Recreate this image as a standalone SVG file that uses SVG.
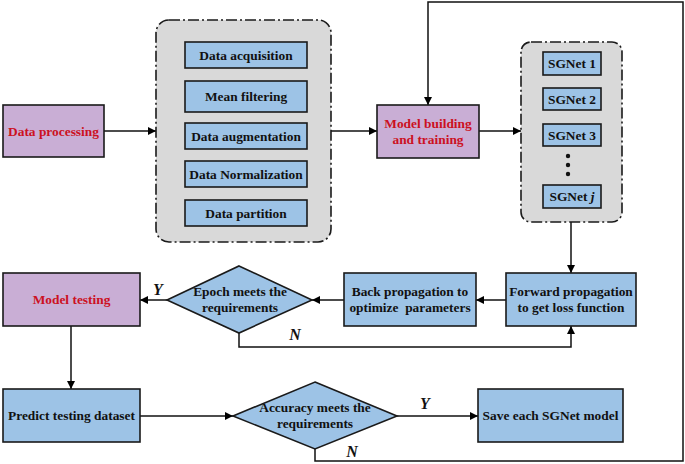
<svg xmlns="http://www.w3.org/2000/svg" width="685" height="464" viewBox="0 0 685 464">
<defs>
<marker id="ah" viewBox="0 0 10 10" refX="10" refY="5" markerWidth="8" markerHeight="8" markerUnits="userSpaceOnUse" orient="auto">
<path d="M0,0 L10,5 L0,10 Z" fill="#000"/>
</marker>
<style>
.blue{fill:#9dc3e6;stroke:#1a1a1a;stroke-width:1.6}
.purp{fill:#c9aed5;stroke:#1a1a1a;stroke-width:1.6}
.cont{fill:#d9d9d9;stroke:#1a1a1a;stroke-width:1.6;stroke-dasharray:11 3 2 3}
.t{font-family:"Liberation Serif","Times New Roman",serif;font-weight:bold;font-size:13.4px;fill:#111;text-anchor:middle}
.r{fill:#cc1122}
.yn{font-family:"Liberation Serif","Times New Roman",serif;font-weight:bold;font-style:italic;font-size:16px;fill:#111;text-anchor:middle}
.c{fill:none;stroke:#111;stroke-width:1.5}
</style>
</defs>
<rect width="685" height="464" fill="#fff"/>

<g id="connectors">
<line class="c" x1="104" y1="131" x2="156" y2="131" marker-end="url(#ah)"/>
<line class="c" x1="331" y1="131" x2="377" y2="131" marker-end="url(#ah)"/>
<line class="c" x1="479" y1="131" x2="521" y2="131" marker-end="url(#ah)"/>
<line class="c" x1="571" y1="222" x2="571" y2="273" marker-end="url(#ah)"/>
<line class="c" x1="506" y1="300" x2="476" y2="300" marker-end="url(#ah)"/>
<line class="c" x1="344" y1="300" x2="312" y2="300" marker-end="url(#ah)"/>
<line class="c" x1="167" y1="300" x2="140" y2="300" marker-end="url(#ah)"/>
<polyline class="c" points="239,333 239,347 571,347 571,326" marker-end="url(#ah)"/>
<line class="c" x1="71" y1="326" x2="71" y2="389" marker-end="url(#ah)"/>
<line class="c" x1="140" y1="416" x2="233" y2="416" marker-end="url(#ah)"/>
<line class="c" x1="397" y1="416" x2="478" y2="416" marker-end="url(#ah)"/>
<polyline class="c" points="315,449 315,461 683,461 683,2 428,2 428,105" marker-end="url(#ah)"/>
<text class="yn" x="158" y="295">Y</text>
<text class="yn" x="295" y="340">N</text>
<text class="yn" x="425" y="409">Y</text>
<text class="yn" x="352" y="457">N</text>
</g>

<g id="data-processing">
<rect class="purp" x="3" y="105" width="101" height="52"/>
<text class="t r" x="53.5" y="135.5">Data processing</text>
</g>

<g id="preprocessing-group">
<rect class="cont" x="156" y="20" width="175" height="222" rx="13"/>
</g>
<g id="data-acquisition">
<rect class="blue" x="185" y="42" width="122" height="26"/>
<text class="t" x="246" y="59.5">Data acquisition</text>
</g>
<g id="mean-filtering">
<rect class="blue" x="185" y="81" width="122" height="31"/>
<text class="t" x="246" y="101">Mean filtering</text>
</g>
<g id="data-augmentation">
<rect class="blue" x="185" y="123" width="122" height="26"/>
<text class="t" x="246" y="140.5">Data augmentation</text>
</g>
<g id="data-normalization">
<rect class="blue" x="185" y="161" width="122" height="26"/>
<text class="t" x="246" y="178.5">Data Normalization</text>
</g>
<g id="data-partition">
<rect class="blue" x="185" y="200" width="122" height="26"/>
<text class="t" x="246" y="217.5">Data partition</text>
</g>

<g id="model-building">
<rect class="purp" x="377" y="105" width="102" height="53"/>
<text class="t r" x="428" y="128">Model building</text>
<text class="t r" x="428" y="144">and training</text>
</g>

<g id="sgnet-group">
<rect class="cont" x="521" y="42" width="101" height="180" rx="10"/>
<circle cx="568" cy="156" r="2.2" fill="#111"/>
<circle cx="568" cy="165" r="2.2" fill="#111"/>
<circle cx="568" cy="174" r="2.2" fill="#111"/>
</g>
<g id="sgnet-1">
<rect class="blue" x="543" y="52" width="58" height="23"/>
<text class="t" x="572" y="68">SGNet 1</text>
</g>
<g id="sgnet-2">
<rect class="blue" x="543" y="88" width="58" height="22"/>
<text class="t" x="572" y="103.5">SGNet 2</text>
</g>
<g id="sgnet-3">
<rect class="blue" x="543" y="124" width="58" height="22"/>
<text class="t" x="572" y="139.5">SGNet 3</text>
</g>
<g id="sgnet-j">
<rect class="blue" x="543" y="185" width="58" height="23"/>
<text class="t" x="572" y="201">SGNet <tspan font-style="italic">j</tspan></text>
</g>

<g id="forward-propagation">
<rect class="blue" x="506" y="273" width="130" height="53"/>
<text class="t" x="571" y="296">Forward propagation</text>
<text class="t" x="571" y="312">to get loss function</text>
</g>
<g id="back-propagation">
<rect class="blue" x="344" y="273" width="132" height="53"/>
<text class="t" x="410" y="296">Back propagation to</text>
<text class="t" x="410" y="312" xml:space="preserve">optimize  parameters</text>
</g>
<g id="epoch-decision">
<polygon class="blue" points="239,266 312,300 239,333 167,300"/>
<text class="t" x="240" y="296">Epoch meets the</text>
<text class="t" x="240" y="312">requirements</text>
</g>
<g id="model-testing">
<rect class="purp" x="3" y="273" width="137" height="53"/>
<text class="t r" x="71.5" y="304">Model testing</text>
</g>
<g id="predict-testing">
<rect class="blue" x="3" y="389" width="137" height="53"/>
<text class="t" x="71.5" y="420">Predict testing dataset</text>
</g>
<g id="accuracy-decision">
<polygon class="blue" points="315,382 397,416 315,449 233,416"/>
<text class="t" x="315" y="412">Accuracy meets the</text>
<text class="t" x="315" y="428">requirements</text>
</g>
<g id="save-model">
<rect class="blue" x="478" y="389" width="145" height="53"/>
<text class="t" x="550.5" y="420">Save each SGNet model</text>
</g>
</svg>
